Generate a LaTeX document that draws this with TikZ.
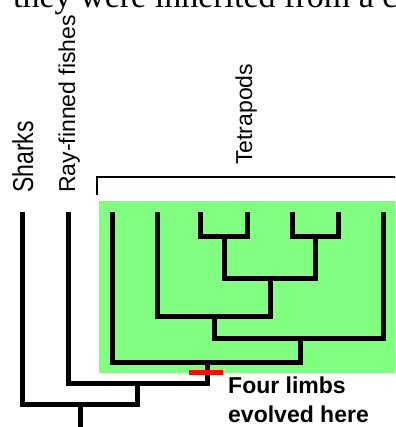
\documentclass[tikz,border=0pt]{standalone}
\usepackage{fontspec}
\setmainfont{Liberation Serif}
\newfontfamily\arialf{Liberation Sans}
\definecolor{tgreen}{RGB}{128,255,128}
\definecolor{tred}{RGB}{255,10,10}
\begin{document}
\begin{tikzpicture}[x=1pt,y=-1pt,
  branch/.style={line width=5pt, black},
  lab/.style={inner sep=0pt, rotate=90, anchor=base west, font=\arialf\fontsize{23}{27}\selectfont},
  note/.style={inner sep=0pt, anchor=base west, font=\arialf\bfseries\fontsize{23}{27}\selectfont}]
\useasboundingbox (0,0) rectangle (395,427);
\clip (0,0) rectangle (395,427);
% clipped running text at the top
\node[inner sep=0pt, anchor=base west, font=\fontsize{34}{40}\selectfont] (cap) at (13,8) {they were inherited from a c};
% green tetrapod box
\fill[tgreen] (99,201) rectangle (395,373);
% bracket
\coordinate (bl) at (97,195);
\coordinate (br) at (402,177);
\draw[line width=1.5pt] (bl) |- (br);
% labels
\node[lab] (lsh) at (33,193) {\scalebox{1}[1.25]{Sharks}};
\node[lab] (lrf) at (75,193) {Ray-finned fishes};
\node[lab] (ltp) at (252,165) {Tetrapods};
% leaves
\coordinate (sh) at (22,212);
\coordinate (rf) at (68,212);
\coordinate (t1) at (112,212);
\coordinate (t2) at (157,212);
\coordinate (t3) at (200,212);
\coordinate (t4) at (247,212);
\coordinate (t5) at (292,212);
\coordinate (t6) at (338,212);
\coordinate (t7) at (383,212);
% internal nodes
\coordinate (n34) at (224,236);
\coordinate (n56) at (315,236);
\coordinate (n36) at (270,278);
\coordinate (n26) at (214,316);
\coordinate (n27) at (300,338);
\coordinate (ntet) at (207,362);
\coordinate (nrt) at (137,383);
\coordinate (root) at (80,404);
\coordinate (rootend) at (80,432);
% branches
\draw[branch] (t3) |- (n34) -| (t4);
\draw[branch] (t5) |- (n56) -| (t6);
\draw[branch] (n34) |- (n36) -| (n56);
\draw[branch] (t2) |- (n26) -| (n36);
\draw[branch] (n26) |- (n27) -| (t7);
\draw[branch] (t1) |- (ntet) -| (n27);
\draw[branch] (rf) |- (nrt) -| (ntet);
\draw[branch] (sh) |- (root) -| (nrt);
\draw[branch] (root) -- (rootend);
% red mark
\coordinate (ma) at (189,372.5);
\coordinate (mb) at (223,372.5);
\draw[tred, line width=5pt] (ma) -- (mb);
% note
\node[note] (n1) at (228,393) {Four limbs};
\node[note] (n2) at (228,422) {evolved here};
\end{tikzpicture}
\end{document}
